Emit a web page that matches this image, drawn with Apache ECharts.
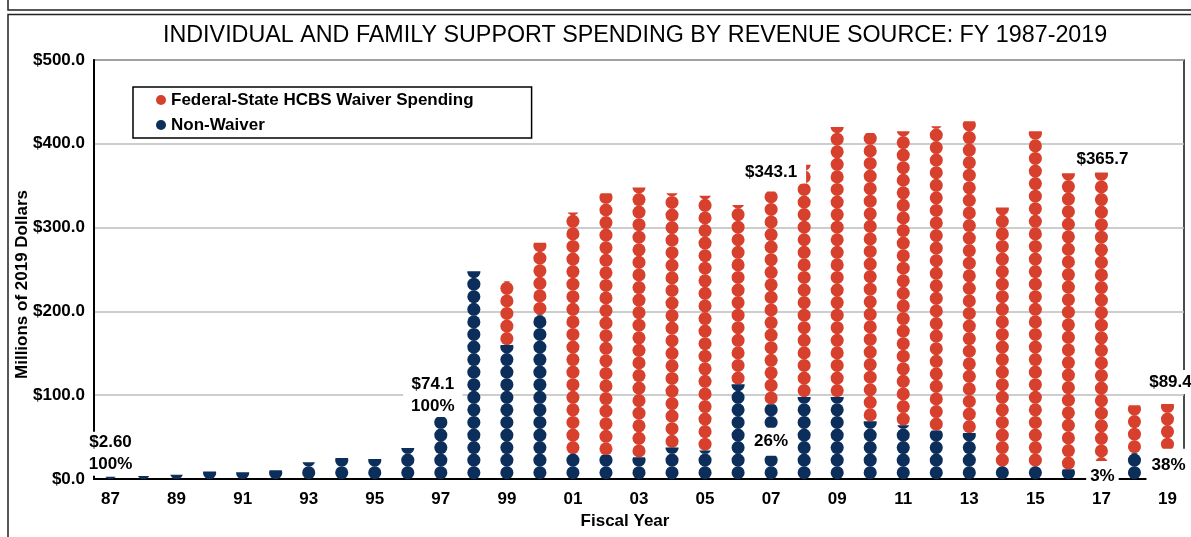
<!DOCTYPE html>
<html>
<head>
<meta charset="utf-8">
<title>Individual and Family Support Spending by Revenue Source</title>
<script src="https://cdn.jsdelivr.net/npm/echarts@6/dist/echarts.min.js"></script>
<style>
  html, body { margin: 0; padding: 0; background: #fff; }
  #chart { width: 1191px; height: 537px; }
</style>
</head>
<body>
<div id="chart"></div>
<script>
// Fiscal years 1987-2019 (two-digit labels)
const years = ['87','88','89','90','91','92','93','94','95','96','97','98','99','00','01','02','03',
               '04','05','06','07','08','09','10','11','12','13','14','15','16','17','18','19'];

// Total individual and family support spending, millions of 2019 dollars
const totalSpending = [2.6, 3.5, 5, 9, 8, 10.5, 20, 25, 24, 37, 74.1, 248, 236, 282, 318, 341, 348,
                       341, 338, 327, 343.1, 375, 420, 413, 415, 421, 427, 324, 415, 365, 365.7, 88, 89.4];

// Non-waiver portion of that spending
const nonWaiverSpending = [2.6, 3.5, 5, 9, 8, 10.5, 20, 25, 24, 37, 74.1, 248, 160, 196, 30, 28.5, 26,
                           37.5, 34, 113, 89.2, 98, 98, 69, 64, 58, 55, 15, 15, 11.5, 11, 31, 34];

// Value axis ticks
const yMin = 0, yMax = 500, yStep = 100;

// Dollars represented by one stacked dot
const dotUnit = 15;

// Annotated years
const stackedLabelYears = ['87', '97'];       // total and share above the bar
const totalLabelYears = ['07', '17', '19'];   // total above the bar
const shareLabelYears = ['07', '17', '19'];   // share centred in the non-waiver stack

const RED = '#d6402d';
const NAVY = '#0c2e5b';
const FONT = 'Liberation Sans, Arial, sans-serif';

const money = v => '$' + v.toFixed(v < 10 ? 2 : 1);
const share = i => Math.round(nonWaiverSpending[i] / totalSpending[i] * 100) + '%';

// Label placement tweaks
const topLabelStyle = {
  '87': { distance: 1,  offset: [0, 0],   padding: [0, 3] },
  '97': { distance: 0,  offset: [-8, 0],  padding: [0, 8] },
  '07': { distance: 8,  offset: [0, 0],   padding: [0, 9] },
  '17': { distance: 2,  offset: [1, 0],   padding: [0, 4] },
  '19': { distance: 10, offset: [3, 0],   padding: [1, 7] }
};
const shareLabelStyle = {
  '07': { offset: [0, 0],   padding: [3, 3] },
  '17': { offset: [1, 1.5], padding: [7, 4, 1, 4] },
  '19': { offset: [1, 1],   padding: [6, 5] }
};

// Draws one stack of dots between lo and hi; the last dot is cut off at hi
function dotStack(params, api) {
  const idx = api.value(0);
  const lo = api.value(1);
  const hi = api.value(2);
  const base = api.coord([idx, lo]);
  const top = api.coord([idx, hi]);
  const pitch = api.size([0, dotUnit])[1];
  const r = pitch / 2 * 1.04;
  const cx = base[0];
  const fill = api.visual('color');
  const children = [];
  let yb = base[1];
  const yt = top[1];
  while (yb - yt > 0.25) {
    const cy = yb - pitch / 2;
    if (yb - pitch >= yt - 0.01) {
      children.push({ type: 'circle', shape: { cx: cx, cy: cy, r: r }, style: { fill: fill } });
    } else {
      const s = Math.max(-1, Math.min(1, (yt - cy) / r));
      const a0 = Math.asin(s), a1 = Math.PI - a0;
      const pts = [];
      const n = 24;
      for (let k = 0; k <= n; k++) {
        const a = a0 + (a1 - a0) * k / n;
        pts.push([cx + r * Math.cos(a), Math.min(yb, cy + r * Math.sin(a))]);
      }
      children.push({ type: 'polygon', shape: { points: pts }, style: { fill: fill } });
    }
    yb -= pitch;
  }
  return { type: 'group', children: children };
}

const labelFont = {
  fontFamily: FONT, fontSize: 17, fontWeight: 'bold', color: '#000', lineHeight: 22,
  opacity: 1, textBorderWidth: 0, backgroundColor: '#ffffff'
};

const labelData = [];
stackedLabelYears.concat(totalLabelYears).forEach(y => {
  const i = years.indexOf(y);
  const st = topLabelStyle[y];
  const text = stackedLabelYears.includes(y) ? money(totalSpending[i]) + '\n' + share(i) : money(totalSpending[i]);
  labelData.push({
    value: [i, totalSpending[i]],
    label: Object.assign({
      show: true, position: 'top', distance: st.distance, offset: st.offset, padding: st.padding,
      align: 'center', formatter: text
    }, labelFont)
  });
});
shareLabelYears.forEach(y => {
  const i = years.indexOf(y);
  const st = shareLabelStyle[y];
  labelData.push({
    value: [i, nonWaiverSpending[i] / 2],
    label: Object.assign({
      show: true, position: 'inside', offset: st.offset, padding: st.padding,
      formatter: share(i)
    }, labelFont)
  });
});

const chart = echarts.init(document.getElementById('chart'), null, { renderer: 'canvas' });

chart.setOption({
  animation: false,
  backgroundColor: '#fff',
  title: {
    text: 'INDIVIDUAL AND FAMILY SUPPORT SPENDING BY REVENUE SOURCE: FY 1987-2019',
    left: 163, top: 24, padding: 0,
    textStyle: { fontFamily: FONT, fontSize: 23.3, fontWeight: 'normal', color: '#000' }
  },
  legend: {
    orient: 'vertical',
    left: 133, top: 87,
    padding: [3, 58, 3, 23],
    itemGap: 5,
    itemWidth: 10, itemHeight: 10,
    borderColor: '#000', borderWidth: 1.5,
    backgroundColor: '#fff',
    data: [
      { name: 'Federal-State HCBS Waiver Spending', icon: 'circle' },
      { name: 'Non-Waiver', icon: 'circle' }
    ],
    textStyle: { fontFamily: FONT, fontSize: 17, fontWeight: 'bold', color: '#000', lineHeight: 20 }
  },
  grid: {
    left: 94, top: 60, right: 7, bottom: 58,
    outerBoundsMode: 'none',
    show: true, borderColor: '#111', borderWidth: 1.5
  },
  xAxis: {
    type: 'category',
    data: years,
    boundaryGap: true,
    name: 'Fiscal Year',
    nameLocation: 'middle',
    nameGap: 34,
    nameMoveOverlap: false,
    nameTextStyle: { fontFamily: FONT, fontSize: 17, fontWeight: 'bold', color: '#000', padding: [0, 28, 0, 0] },
    axisLine: { show: true, lineStyle: { color: '#000', width: 2 } },
    axisTick: { show: false },
    axisLabel: { interval: 1, margin: 12, fontFamily: FONT, fontSize: 17, fontWeight: 'bold', color: '#000' }
  },
  yAxis: {
    type: 'value',
    min: yMin, max: yMax, interval: yStep,
    name: 'Millions of 2019 Dollars',
    nameLocation: 'middle',
    nameRotate: 90,
    nameGap: 63,
    nameMoveOverlap: false,
    nameTextStyle: { fontFamily: FONT, fontSize: 17, fontWeight: 'bold', color: '#000', padding: [0, 30, 0, 0] },
    axisLine: { show: true, lineStyle: { color: '#000', width: 2 } },
    axisTick: { show: false },
    axisLabel: { margin: 9, fontFamily: FONT, fontSize: 17, fontWeight: 'bold', color: '#000',
                 formatter: v => '$' + v.toFixed(1) },
    splitLine: { show: true, lineStyle: { color: '#bdbdbd', width: 1.5 } }
  },
  graphic: [
    { type: 'rect', silent: true, z: 100, shape: { x: 8, y: -100, width: 1300, height: 110 },
      style: { fill: null, stroke: '#222', lineWidth: 1.5 } },
    { type: 'rect', silent: true, z: 100, shape: { x: 8, y: 14.5, width: 1300, height: 700 },
      style: { fill: null, stroke: '#222', lineWidth: 1.5 } }
  ],
  series: [
    {
      name: 'Federal-State HCBS Waiver Spending',
      type: 'custom',
      renderItem: dotStack,
      itemStyle: { color: RED },
      encode: { x: 0, y: [1, 2] },
      data: years.map((y, i) => [i, nonWaiverSpending[i], totalSpending[i]]),
      silent: true, z: 3
    },
    {
      name: 'Non-Waiver',
      type: 'custom',
      renderItem: dotStack,
      itemStyle: { color: NAVY },
      encode: { x: 0, y: [1, 2] },
      data: years.map((y, i) => [i, 0, nonWaiverSpending[i]]),
      silent: true, z: 3
    },
    {
      name: 'labels',
      type: 'scatter',
      symbolSize: 0.1,
      itemStyle: { color: '#ffffff', opacity: 1 },
      emphasis: { disabled: true },
      data: labelData,
      silent: true, z: 10
    }
  ]
});
</script>
</body>
</html>
